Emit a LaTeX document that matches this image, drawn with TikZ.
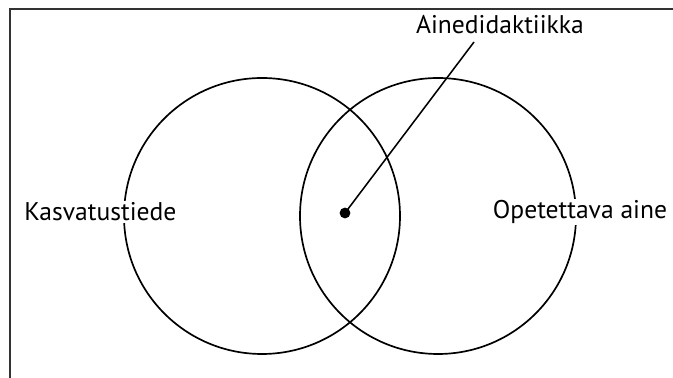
\documentclass[tikz,border=0pt]{standalone}
\usepackage{fontspec}
\setmainfont{PT Sans}
\usepackage{tikz}
\usetikzlibrary{positioning}

\begin{document}
\begin{tikzpicture}[every node/.style={font=\fontsize{18.2}{21}\selectfont}]

    % styles
    \tikzset{
        field/.style={draw=black, circle, line width=1.2pt, minimum size=6.9cm, inner sep=0pt},
        fieldlabel/.style={fill=white, inner sep=1pt},
        pointer/.style={draw=black, line width=1.1pt},
        frameline/.style={draw=black!80, line width=1pt}
    }

    \useasboundingbox (0,0) rectangle (16.825,9.45);

    % frame
    \draw[frameline] (0.25,0) -- (0.25,9.225) -- (16.825,9.225);

    % the two fields
    \node[field] (kasvatus) at (6.55,4.05) {};
    \node[field] (aine) at (10.95,4.05) {};

    % labels
    \node[fieldlabel] (kasvlabel) at (2.51,4.15) {Kasvatustiede};
    \node[fieldlabel] (ainelabel) at (14.5,4.15) {Opetettava aine};
    \node (didlabel) at (12.5,8.825) {Ainedidaktiikka};

    % overlap point and pointer
    \node[circle, fill=black, inner sep=0pt, minimum size=0.27cm] (overlap) at (8.625,4.125) {};
    \coordinate (tip) at (11.85,8.4);
    \draw[pointer] (overlap.center) -- (tip);

\end{tikzpicture}
\end{document}
